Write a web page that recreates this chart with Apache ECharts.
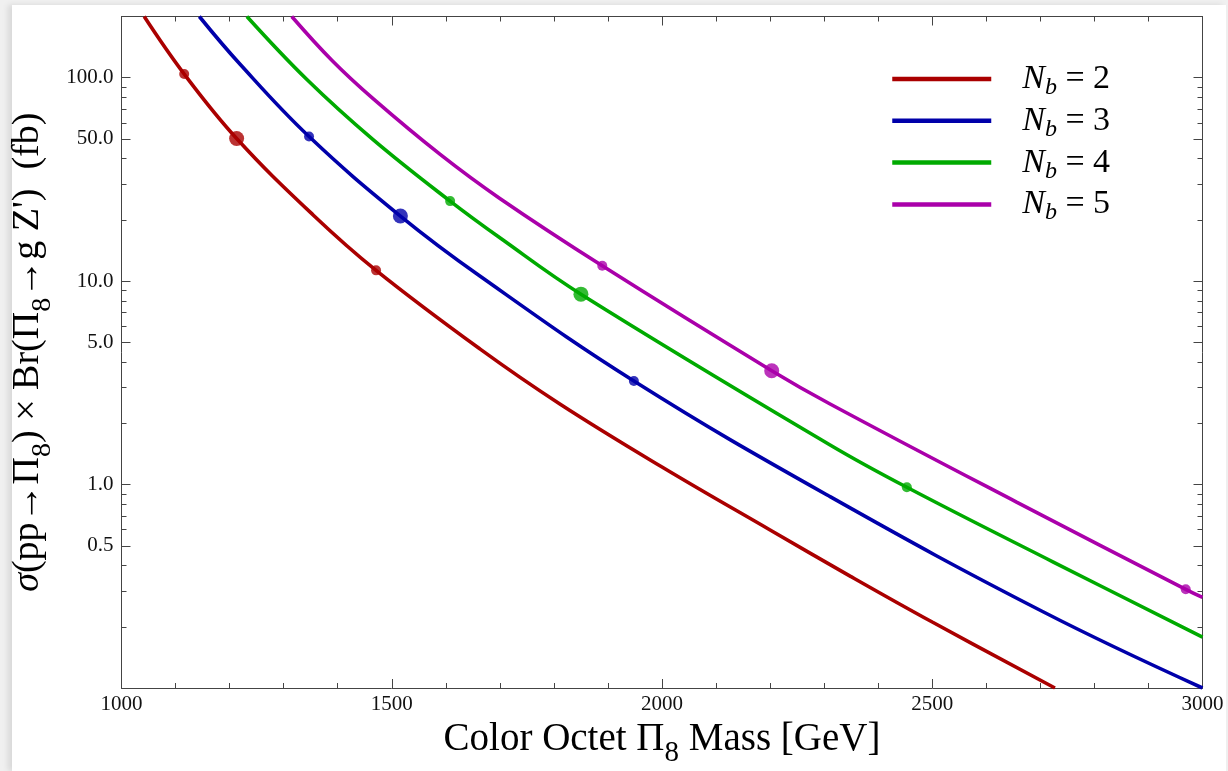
<!DOCTYPE html>
<html>
<head>
<meta charset="utf-8">
<script src="https://cdn.jsdelivr.net/npm/echarts@6/dist/echarts.min.js"></script>
<style>
html,body{margin:0;padding:0;width:1228px;height:771px;overflow:hidden;background:#f0f0f0;}
#panel{position:absolute;left:12px;top:5px;width:1214px;height:766px;background:#ffffff;box-shadow:-4px 0 6px rgba(0,0,0,0.10);}
#chart{position:absolute;left:0;top:0;width:1228px;height:771px;}
</style>
</head>
<body>
<div id="panel"></div>
<div id="chart"></div>
<script>
// ---- data ----
const seriesNames = ['Nb = 2', 'Nb = 3', 'Nb = 4', 'Nb = 5'];
const nbLabels = ['2', '3', '4', '5'];

const massN2 = [1042, 1116, 1213, 1355, 1471, 1663, 1811, 2000, 2200, 2348, 2500, 2727];
const xsecN2 = [200, 104.3, 50.3, 21.1, 11.3, 4.645, 2.49, 1.22, 0.598, 0.355, 0.211, 0.1];

const massN3 = [1144, 1219, 1347, 1516, 1663, 1948, 2311, 2705, 3000];
const xsecN3 = [200, 116.8, 51.4, 20.9, 10.6, 3.23, 0.872, 0.237, 0.1];

const massN4 = [1232, 1343, 1466, 1608, 1702, 1850, 2311, 2453, 2724, 3000];
const xsecN4 = [200, 98.0, 49.5, 24.75, 16.2, 8.63, 1.566, 0.97, 0.416, 0.178];

const massN5 = [1315, 1390, 1466, 1589, 1700, 1889.5, 2203, 2311, 2656, 2969, 3000];
const xsecN5 = [200, 121.2, 78.7, 42.1, 25.5, 11.9, 3.63, 2.49, 0.82, 0.3055, 0.279];

// marked points on each curve
const smallDotMass = [[1116, 1471], [1347, 1948], [1608, 2453], [1889.5, 2969]];
const smallDotXsec = [[104.3, 11.3], [51.4, 3.23], [24.75, 0.97], [11.9, 0.3055]];
const bigDotMass = [[1213], [1516], [1850], [2203]];
const bigDotXsec = [[50.3], [20.9], [8.63], [3.63]];

// axis ticks
const xMin = 1000, xMax = 3000, xStep = 500;
const yMin = 0.1, yMax = 200;
const yMajorTicks = [0.5, 1, 5, 10, 50, 100];
const yMinorTicks = [0.2, 0.3, 0.4, 0.6, 0.7, 0.8, 0.9, 2, 3, 4, 6, 7, 8, 9, 20, 30, 40, 60, 70, 80, 90];

// ---- chart ----
const FONT = 'Liberation Serif';
const colors = ['#aa0000', '#0000aa', '#00aa00', '#aa00aa'];
const AX = '#444444';
const zip = (a, b) => a.map((v, i) => [v, b[i]]);
const masses = [massN2, massN3, massN4, massN5];
const xsecs = [xsecN2, xsecN3, xsecN4, xsecN5];

const series = [];
seriesNames.forEach((name, i) => {
  series.push({
    name: name, type: 'line', data: zip(masses[i], xsecs[i]),
    smooth: 0.4, symbol: 'none', showSymbol: false, clip: true,
    lineStyle: { color: colors[i], width: 3.6 }, itemStyle: { color: colors[i] },
    z: 3, silent: true
  });
});
seriesNames.forEach((name, i) => {
  series.push({
    name: name + ' pts', type: 'scatter', data: zip(smallDotMass[i], smallDotXsec[i]),
    symbol: 'circle', symbolSize: 10, itemStyle: { color: colors[i] }, z: 4, silent: true
  });
  series.push({
    name: name + ' pt', type: 'scatter', data: zip(bigDotMass[i], bigDotXsec[i]),
    symbol: 'circle', symbolSize: 15, itemStyle: { color: colors[i] }, z: 4, silent: true
  });
});

function xAxisDef(pos, withLabels) {
  const ax = {
    type: 'value', position: pos, min: xMin, max: xMax, interval: xStep,
    axisLine: { show: true, onZero: false, lineStyle: { color: AX, width: 1 } },
    axisTick: { show: true, inside: true, length: 9, lineStyle: { color: AX, width: 1 } },
    minorTick: { show: true, splitNumber: 5, length: 5, lineStyle: { color: AX, width: 1 } },
    splitLine: { show: false }, minorSplitLine: { show: false },
    axisLabel: { show: withLabels, fontFamily: FONT, fontSize: 21, color: '#111', margin: 6,
                 showMinLabel: true, showMaxLabel: true, formatter: v => String(v) }
  };
  if (withLabels) {
    ax.name = '{a|Color Octet Π}{s|8}{a| Mass [GeV]}';
    ax.nameLocation = 'middle';
    ax.nameGap = 24;
    ax.nameMoveOverlap = false;
    ax.nameTextStyle = {
      fontFamily: FONT, color: '#000',
      rich: {
        a: { fontFamily: FONT, fontSize: 39, lineHeight: 56, color: '#000' },
        s: { fontFamily: FONT, fontSize: 29, verticalAlign: 'bottom', color: '#000' }
      }
    };
  }
  return ax;
}

function yAxisDef(pos, major, withLabels) {
  const ax = {
    type: 'log', logBase: 10, position: pos, min: yMin, max: yMax,
    axisLine: { show: major, onZero: false, lineStyle: { color: AX, width: 1 } },
    axisTick: { show: true, inside: true, length: major ? 9 : 5,
                customValues: major ? yMajorTicks : yMinorTicks,
                lineStyle: { color: AX, width: 1 } },
    splitLine: { show: false },
    axisLabel: { show: withLabels, customValues: yMajorTicks, fontFamily: FONT, fontSize: 21,
                 color: '#111', margin: 8, formatter: v => Number(v).toFixed(1) }
  };
  if (withLabels) {
    ax.name = '{i|σ}{a|(pp→Π}{s|8}{a|) × Br(Π}{s|8}{a|→g Z\')  (fb)}';
    ax.nameLocation = 'middle';
    ax.nameGap = 65;
    ax.nameMoveOverlap = false;
    ax.nameTextStyle = {
      fontFamily: FONT, color: '#000',
      rich: {
        i: { fontFamily: FONT, fontSize: 38, fontStyle: 'italic', lineHeight: 56, color: '#000' },
        a: { fontFamily: FONT, fontSize: 38, lineHeight: 56, color: '#000' },
        s: { fontFamily: FONT, fontSize: 28, verticalAlign: 'bottom', color: '#000' }
      }
    };
  }
  return ax;
}

const chart = echarts.init(document.getElementById('chart'), null, { renderer: 'canvas' });
chart.setOption({
  backgroundColor: 'transparent',
  animation: false,
  color: colors,
  grid: { left: 121.5, right: 25.5, top: 16.5, bottom: 83, containLabel: false, outerBoundsMode: 'none' },
  legend: {
    data: seriesNames,
    orient: 'vertical', left: 890, top: 62, padding: 0,
    itemWidth: 99, itemHeight: 14, itemGap: 4.1,
    itemStyle: { opacity: 0, borderWidth: 0 },
    lineStyle: { width: 4.5 },
    formatter: function (name) {
      const i = seriesNames.indexOf(name);
      return '{n|N}{b|b}{t| = ' + nbLabels[i] + '}';
    },
    textStyle: {
      fontFamily: FONT, color: '#000',
      rich: {
        n: { fontFamily: FONT, fontSize: 34, fontStyle: 'italic', lineHeight: 41.4, color: '#000', padding: [0, 0, 0, 26] },
        b: { fontFamily: FONT, fontSize: 24, fontStyle: 'italic', verticalAlign: 'bottom', color: '#000' },
        t: { fontFamily: FONT, fontSize: 34, lineHeight: 41.4, color: '#000' }
      }
    },
    selectedMode: false
  },
  xAxis: [xAxisDef('bottom', true), xAxisDef('top', false)],
  yAxis: [yAxisDef('left', true, true), yAxisDef('left', false, false),
          yAxisDef('right', true, false), yAxisDef('right', false, false)],
  series: series
});
</script>
</body>
</html>
